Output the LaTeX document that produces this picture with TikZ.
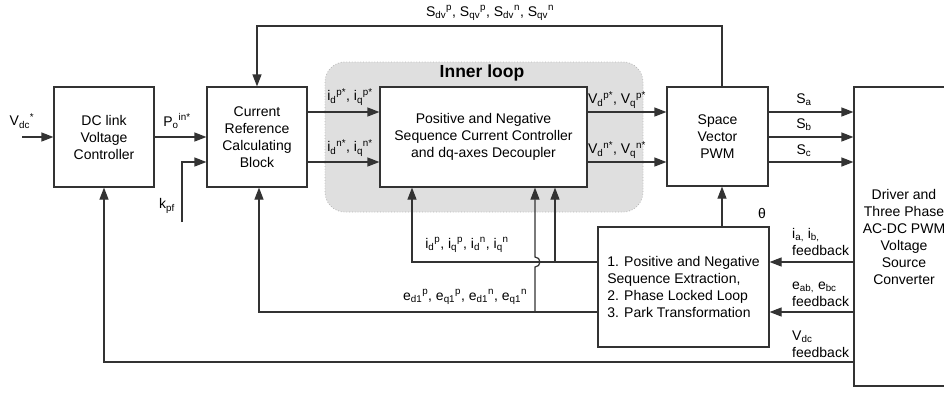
\documentclass[tikz,border=0pt]{standalone}
\usepackage{fontspec}
\setmainfont{Liberation Sans}
\usetikzlibrary{arrows.meta,calc}
\newcommand\mysb[1]{\textsubscript{#1}}
\newcommand\mysp[1]{\textsuperscript{#1}}
\tikzset{
  blk/.style={draw=black!80, line width=1.2pt, fill=white, align=center, inner sep=0pt},
  wire/.style={draw=black!80, line width=1.2pt},
  conn/.style={wire, -{Triangle[length=12pt,width=9pt]}},
  lbl/.style={inner sep=0pt, align=left},
}
\begin{document}
\begin{tikzpicture}[x=1pt,y=-1pt,font=\fontsize{14}{17}\selectfont]
\clip (0,0) rectangle (944,392);
\fill[white] (0,0) rectangle (944,392);
% inner loop region
\draw[fill=gray!25, draw=gray!55, dotted, line width=0.8pt, rounded corners=20pt] (325,62) rectangle (643,212);
\node[font=\fontsize{17.5}{20}\selectfont\bfseries] (il) at (482,73) {Inner loop};
% blocks
\node[blk, minimum width=100pt, minimum height=100pt] (dc) at (104,137) {DC link\\Voltage\\Controller};
\node[blk, minimum width=100pt, minimum height=100pt] (crc) at (257,137) {Current\\Reference\\Calculating\\Block};
\node[blk, minimum width=207pt, minimum height=100pt] (inr) at (483.5,137) {Positive and Negative\\Sequence Current Controller\\and dq-axes Decoupler};
\node[blk, minimum width=101pt, minimum height=99pt] (svp) at (717.5,136.5) {Space\\Vector\\PWM};
\node[blk, minimum width=100pt, minimum height=299pt] (drv) at (904,236.5) {Driver and\\Three Phase\\AC-DC PWM\\Voltage\\Source\\Converter};
\node[blk, align=left, minimum width=171pt, minimum height=120pt] (pse) at (683.5,287) {1. Positive and Negative\\Sequence Extraction,\\2. Phase Locked Loop\\3. Park Transformation};
% coordinates
\coordinate (vin) at (22,137);
\coordinate (kin) at (182,222);
\coordinate (ky) at (0,162);
\coordinate (ya) at (0,112);
\coordinate (yb) at (0,137);
\coordinate (yc) at (0,162);
\coordinate (tx) at (722,26);
\coordinate (iL) at (412,262);
\coordinate (iB) at (555,262);
\coordinate (eL) at (259,312);
\coordinate (eB) at (535,312);
\coordinate (vy) at (0,362);
% connectors
\draw[conn] (vin) -- (dc.west);
\draw[conn] (dc.east) -- (crc.west);
\draw[conn] (kin) |- (crc.west |- ky);
\draw[conn] (crc.east |- ya) -- (inr.west |- ya);
\draw[conn] (crc.east |- yc) -- (inr.west |- yc);
\draw[conn] (inr.east |- ya) -- (svp.west |- ya);
\draw[conn] (inr.east |- yc) -- (svp.west |- yc);
\draw[conn] (svp.east |- ya) -- (drv.west |- ya);
\draw[conn] (svp.east |- yb) -- (drv.west |- yb);
\draw[conn] (svp.east |- yc) -- (drv.west |- yc);
\draw[conn] (tx |- svp.north) -- (tx) -| (crc.north);
\draw[conn] (tx |- pse.north) -- (tx |- svp.south);
\draw[conn] (pse.west |- iL) -- (iL) -- (iL |- inr.south);
\draw[conn] (iB) -- (iB |- inr.south);
\draw[conn] (pse.west |- eL) -- (eL) -- (eL |- crc.south);
\draw[conn] (eB) -- ($(eB |- iL)+(0,5)$) arc (90:-90:5) -- (eB |- inr.south);
\draw[conn] (drv.west |- iL) -- (pse.east |- iL);
\draw[conn] (drv.west |- eL) -- (pse.east |- eL);
\draw[conn] (drv.west |- vy) -| (dc.south);
% labels
\node[lbl] (l1) at (490,13) {S\mysb{dv}\mysp{p}, S\mysb{qv}\mysp{p}, S\mysb{dv}\mysp{n}, S\mysb{qv}\mysp{n}};
\node[lbl] (l2) at (22,121) {V\mysb{dc}\mysp{*}};
\node[lbl] (l3) at (177,121) {P\mysb{o}\mysp{in*}};
\node[lbl] (l4) at (167,206) {k\mysb{pf}};
\node[lbl] (l5) at (350,97) {i\mysb{d}\mysp{p*}, i\mysb{q}\mysp{p*}};
\node[lbl] (l6) at (350,148) {i\mysb{d}\mysp{n*}, i\mysb{q}\mysp{n*}};
\node[lbl] (l7) at (617,100) {V\mysb{d}\mysp{p*}, V\mysb{q}\mysp{p*}};
\node[lbl] (l8) at (617,150) {V\mysb{d}\mysp{n*}, V\mysb{q}\mysp{n*}};
\node[lbl] (l9) at (804,100) {S\mysb{a}};
\node[lbl] (l10) at (804,125) {S\mysb{b}};
\node[lbl] (l11) at (804,151) {S\mysb{c}};
\node[lbl] (l12) at (762,213) {θ};
\node[lbl] (l13) at (467,245) {i\mysb{d}\mysp{p}, i\mysb{q}\mysp{p}, i\mysb{d}\mysp{n}, i\mysb{q}\mysp{n}};
\node[lbl] (l14) at (465,297) {e\mysb{d1}\mysp{p}, e\mysb{q1}\mysp{p}, e\mysb{d1}\mysp{n}, e\mysb{q1}\mysp{n}};
\node[lbl, anchor=west] (l15) at (792,242) {i\mysb{a,} i\mysb{b,}\\feedback};
\node[lbl, anchor=west] (l16) at (792,294) {e\mysb{ab,} e\mysb{bc}\\feedback};
\node[lbl, anchor=west] (l17) at (792,344) {V\mysb{dc}\\feedback};
\end{tikzpicture}
\end{document}
